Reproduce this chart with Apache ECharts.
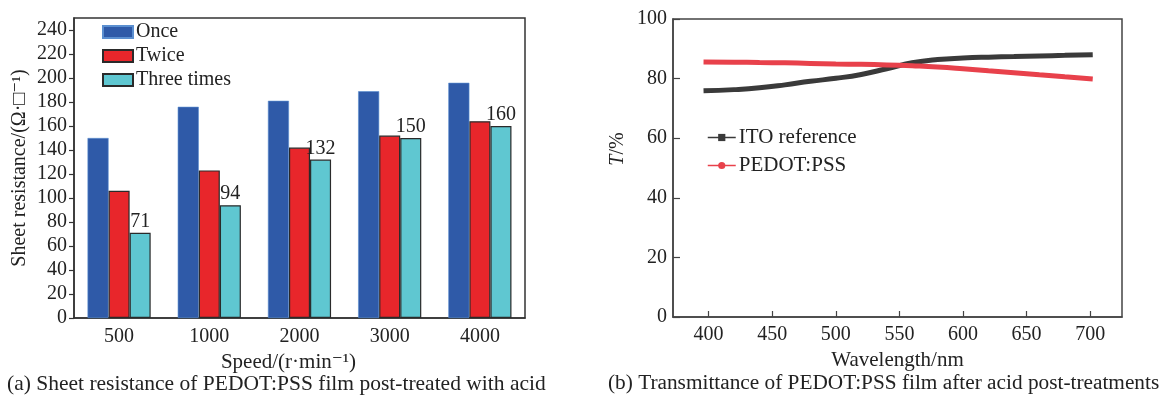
<!DOCTYPE html>
<html>
<head>
<meta charset="utf-8">
<script src="https://cdn.jsdelivr.net/npm/echarts@6/dist/echarts.min.js"></script>
<style>
  html, body { margin: 0; padding: 0; background: #fff; }
  #chart { width: 1165px; height: 403px; }
</style>
</head>
<body>
<div id="chart"></div>
<script>
// (a) sheet resistance
const speeds = ['500', '1000', '2000', '3000', '4000'];
const once = [150, 176, 181, 189, 196];
const twice = [106, 123, 142, 152, 164];
const threeTimes = [71, 94, 132, 150, 160];

// (b) transmittance
const wavelengths = [396, 420, 440, 460, 480, 500, 520, 540, 560, 580, 600, 620, 640, 660, 680, 702];
const itoRef = [75.9, 76.3, 76.9, 77.9, 79.1, 80.1, 81.4, 83.3, 85.3, 86.4, 86.9, 87.2, 87.4, 87.6, 87.8, 88.0];
const pedot = [85.6, 85.5, 85.4, 85.3, 85.1, 84.9, 84.8, 84.6, 84.3, 83.9, 83.3, 82.6, 82.0, 81.3, 80.6, 79.9];
const wlTicks = [400, 450, 500, 550, 600, 650, 700];

const FONT = '"Liberation Serif", "DejaVu Serif", serif';
const INK = '#222';

const chart = echarts.init(document.getElementById('chart'), null, { renderer: 'canvas' });

const axisLabel = { color: INK, fontFamily: FONT, fontSize: 20 };
const nameStyle = { color: INK, fontFamily: FONT, fontSize: 21 };

chart.setOption({
  animation: false,
  backgroundColor: '#fff',
  textStyle: { fontFamily: FONT },
  grid: [
    { left: 74, right: 640, top: 18, bottom: 85, show: true, borderColor: '#333', borderWidth: 1.5, backgroundColor: 'transparent' },
    { left: 673, right: 43, top: 19, bottom: 86, show: true, borderColor: '#444', borderWidth: 1.5, backgroundColor: 'transparent' }
  ],
  legend: [
    {
      data: ['Once', 'Twice', 'Three times'],
      orient: 'vertical', left: 102, top: 22, padding: 0,
      icon: 'rect', itemWidth: 30, itemHeight: 12, itemGap: 4,
      textStyle: { color: INK, fontFamily: FONT, fontSize: 20, padding: [0, 0, 0, -2] }
    },
    {
      data: ['ITO reference', 'PEDOT:PSS'],
      orient: 'vertical', left: 707, top: 127, padding: 0,
      itemWidth: 28, itemHeight: 9, itemGap: 7,
      lineStyle: { width: 1.5 },
      textStyle: { color: INK, fontFamily: FONT, fontSize: 21, padding: [0, 0, 0, -2] }
    }
  ],
  xAxis: [
    {
      type: 'category', gridIndex: 0, data: speeds,
      axisLine: { lineStyle: { color: '#333', width: 1.5 } },
      axisTick: { show: false },
      axisLabel: Object.assign({ margin: 9 }, axisLabel),
      name: 'Speed/(r·min⁻¹)', nameLocation: 'middle', nameGap: 31,
      nameTextStyle: Object.assign({ padding: [0, 22, 0, 0] }, nameStyle)
    },
    {
      type: 'value', gridIndex: 1, min: 372, max: 725,
      axisLine: { lineStyle: { color: '#444', width: 1.5 } },
      axisTick: { inside: true, length: 6, customValues: wlTicks, lineStyle: { color: '#444', width: 1.2 } },
      axisLabel: Object.assign({ margin: 8, customValues: wlTicks }, axisLabel),
      splitLine: { show: false },
      name: 'Wavelength/nm', nameLocation: 'middle', nameGap: 31,
      nameTextStyle: nameStyle
    }
  ],
  yAxis: [
    {
      type: 'value', gridIndex: 0, min: 0, max: 250, interval: 20,
      axisLine: { show: true, lineStyle: { color: '#333', width: 1.5 } },
      axisTick: { show: true, length: 5, lineStyle: { color: '#333', width: 1.2 } },
      axisLabel: Object.assign({ margin: 7, showMaxLabel: false }, axisLabel),
      splitLine: { show: false },
      name: 'Sheet resistance/(Ω·□⁻¹)', nameLocation: 'middle', nameGap: 44,
      nameTextStyle: Object.assign({}, nameStyle, { fontSize: 20 })
    },
    {
      type: 'value', gridIndex: 1, min: 0, max: 100, interval: 20,
      axisLine: { show: true, lineStyle: { color: '#444', width: 1.5 } },
      axisTick: { show: true, inside: true, length: 7, lineStyle: { color: '#444', width: 1.2 } },
      axisLabel: Object.assign({ margin: 6 }, axisLabel),
      splitLine: { show: false },
      name: '{i|T}/%', nameLocation: 'middle', nameGap: 45,
      nameTextStyle: Object.assign({
        padding: [0, 0, 0, 38],
        rich: { i: { fontStyle: 'italic', fontFamily: FONT, fontSize: 20, color: INK } }
      }, nameStyle, { fontSize: 20 })
    }
  ],
  series: [
    {
      name: 'Once', type: 'bar', xAxisIndex: 0, yAxisIndex: 0, data: once,
      barGap: '0%', barCategoryGap: '30%',
      itemStyle: { color: '#2f5aa8', borderColor: '#5b8fd0', borderWidth: 0.6 }
    },
    {
      name: 'Twice', type: 'bar', xAxisIndex: 0, yAxisIndex: 0, data: twice,
      barGap: '0%', barCategoryGap: '30%',
      itemStyle: { color: '#e8262b', borderColor: '#2a2a2a', borderWidth: 1.2 }
    },
    {
      name: 'Three times', type: 'bar', xAxisIndex: 0, yAxisIndex: 0, data: threeTimes,
      barGap: '0%', barCategoryGap: '30%',
      itemStyle: { color: '#5fc7d1', borderColor: '#2a2a2a', borderWidth: 1.2 },
      label: { show: true, position: 'top', distance: 1, color: INK, fontFamily: FONT, fontSize: 20 }
    },
    {
      name: 'ITO reference', type: 'line', xAxisIndex: 1, yAxisIndex: 1,
      data: wavelengths.map((w, i) => [w, itoRef[i]]),
      smooth: true, symbol: 'rect', symbolSize: 8, showSymbol: false,
      itemStyle: { color: '#3a3a3a' },
      lineStyle: { color: '#3a3a3a', width: 5 }
    },
    {
      name: 'PEDOT:PSS', type: 'line', xAxisIndex: 1, yAxisIndex: 1,
      data: wavelengths.map((w, i) => [w, pedot[i]]),
      smooth: true, symbol: 'circle', symbolSize: 8, showSymbol: false,
      itemStyle: { color: '#e8414b' },
      lineStyle: { color: '#e8414b', width: 5 }
    }
  ],
  graphic: [
    {
      type: 'text', left: 7, top: 373,
      style: { text: '(a) Sheet resistance of PEDOT:PSS film post-treated with acid', fill: INK, font: '21.5px ' + FONT }
    },
    {
      type: 'text', left: 608, top: 373,
      style: { text: '(b) Transmittance of PEDOT:PSS film after acid post-treatments', fill: INK, font: '21.3px ' + FONT }
    }
  ]
});

window.addEventListener('resize', () => chart.resize());
</script>
</body>
</html>
